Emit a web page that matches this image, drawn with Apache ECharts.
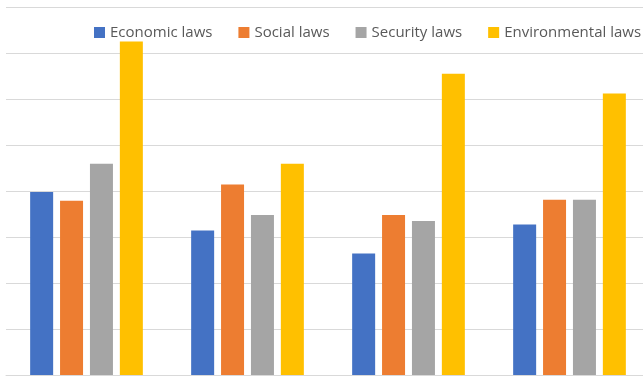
<!DOCTYPE html>
<html>
<head>
<meta charset="utf-8">
<script src="https://cdn.jsdelivr.net/npm/echarts@6/dist/echarts.min.js"></script>
<style>
html,body{margin:0;padding:0;background:#fff;overflow:hidden;}
#chart{width:650px;height:378px;}
</style>
</head>
<body>
<div id="chart"></div>
<script>
const categories = ['Group 1', 'Group 2', 'Group 3', 'Group 4'];
const seriesNames = ['Economic laws', 'Social laws', 'Security laws', 'Environmental laws'];
const economic = [3.98, 3.14, 2.64, 3.27];
const social = [3.79, 4.14, 3.48, 3.81];
const security = [4.59, 3.48, 3.35, 3.81];
const environmental = [7.25, 4.59, 6.55, 6.12];
const colors = ['#4472C4', '#ED7D31', '#A5A5A5', '#FFC000'];

const values = [economic, social, security, environmental];
const chart = echarts.init(document.getElementById('chart'));
chart.setOption({
  animation: false,
  color: colors,
  legend: {
    left: 94,
    top: 25,
    padding: 0,
    width: 600,
    itemWidth: 11,
    itemHeight: 11,
    itemGap: 26,
    icon: 'rect',
    textStyle: { color: '#595959', fontSize: 15, fontFamily: 'Open Sans' },
    data: seriesNames
  },
  grid: { left: 6, top: 7, right: 0, bottom: 3, containLabel: false },
  xAxis: {
    type: 'category',
    data: categories,
    axisLine: { show: true, lineStyle: { color: '#d9d9d9', width: 1 } },
    axisTick: { show: false },
    axisLabel: { show: false }
  },
  yAxis: {
    type: 'value',
    min: 0, max: 8, interval: 1,
    axisLine: { show: false },
    axisTick: { show: false },
    axisLabel: { show: false },
    splitLine: { lineStyle: { color: '#d9d9d9', width: 1 } }
  },
  series: seriesNames.map((n, i) => ({
    name: n,
    type: 'bar',
    data: values[i],
    barWidth: 23,
    barGap: '30%',
    itemStyle: { color: colors[i] }
  }))
});
</script>
</body>
</html>
